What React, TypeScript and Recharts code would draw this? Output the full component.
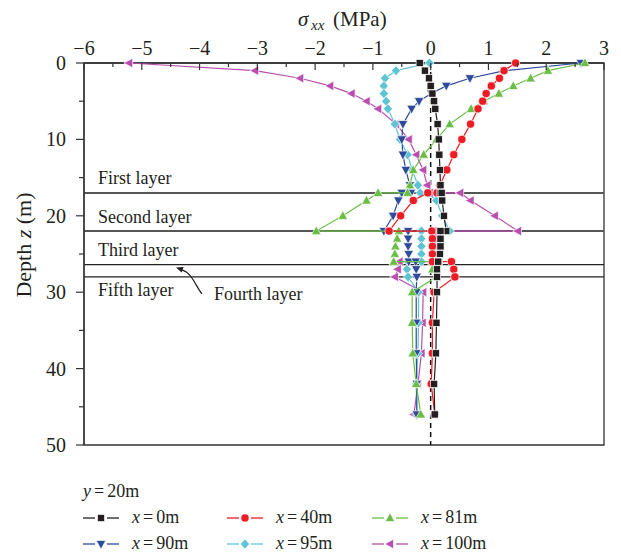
import React from 'react';
import { ScatterChart, Scatter, XAxis, YAxis, ReferenceLine, ReferenceArea } from 'recharts';

const FONT = '"Liberation Serif", "Times New Roman", serif';
const TXT = '#231f20';
const AX = '#333333';

// depth z (m) of every computed point; layer boundaries appear twice
const depths = [0, 1, 2, 3, 4, 5, 6, 8, 10, 12, 14, 16, 17, 17, 18, 20, 22, 22, 23, 24, 25, 26, 26, 27, 28, 30, 34, 38, 42, 46];

// sigma_xx (MPa) at y = 20 m
const sX0 = [-0.19, -0.1, -0.03, 0, 0.03, 0.06, 0.08, 0.12, 0.14, 0.15, 0.16, 0.17, 0.17, 0.19, 0.2, 0.23, 0.27, 0.17, 0.17, 0.17, 0.16, 0.14, 0.13, 0.11, 0.11, 0.11, 0.1, 0.09, 0.06, 0.07];
const sX40 = [1.47, 1.27, 1.19, 1.05, 0.96, 0.9, 0.82, 0.69, 0.54, 0.4, 0.28, 0.16, 0.11, -0.05, -0.3, -0.52, -0.72, 0.02, 0.03, 0.03, 0.03, 0.03, 0.36, 0.4, 0.42, 0.06, 0.03, 0.03, 0.01, 0.07];
const sX81 = [2.67, 2.03, 1.73, 1.43, 1.18, 0.92, 0.7, 0.33, 0.1, -0.12, -0.3, -0.36, -0.4, -0.91, -1.11, -1.52, -1.98, -0.55, -0.58, -0.61, -0.62, -0.64, 0.03, 0.03, 0.1, -0.32, -0.32, -0.31, -0.25, -0.17];
const sX90 = [2.6, 1.28, 0.68, 0.27, 0.01, -0.2, -0.33, -0.48, -0.5, -0.48, -0.43, -0.36, -0.34, -0.5, -0.56, -0.65, -0.81, -0.39, -0.39, -0.39, -0.38, -0.38, -0.26, -0.25, -0.24, -0.25, -0.25, -0.25, -0.24, -0.24];
const sX95 = [-0.02, -0.6, -0.79, -0.81, -0.81, -0.77, -0.74, -0.62, -0.53, -0.4, -0.32, -0.22, -0.18, -0.05, 0.1, 0.2, 0.33, -0.16, -0.16, -0.16, -0.16, -0.16, -0.39, -0.41, -0.39, -0.21, -0.21, -0.22, -0.25, -0.24];
const sX100 = [-5.22, -3.04, -2.26, -1.74, -1.37, -1.11, -0.91, -0.6, -0.38, -0.25, -0.13, -0.06, -0.02, 0.51, 0.69, 1.11, 1.51, 0.05, 0.07, 0.1, 0.1, 0.08, -0.54, -0.57, -0.62, -0.13, -0.14, -0.16, -0.22, -0.29];

const seriesNames = ['0m', '40m', '81m', '90m', '95m', '100m'];
const seriesValues = [sX0, sX40, sX81, sX90, sX95, sX100];
const seriesColors = ['#231f20', '#ed1c24', '#6abd45', '#2e4b9b', '#5ec4d4', '#b84fae'];
const seriesMarkers = ['square', 'circle', 'up', 'down', 'diamond', 'left'];

const layerDepths = [17, 22, 26.4, 28];
const layerNames = ['First layer', 'Second layer', 'Third layer', 'Fifth layer'];

const xTicks = [-6, -5.5, -5, -4.5, -4, -3.5, -3, -2.5, -2, -1.5, -1, -0.5, 0, 0.5, 1, 1.5, 2, 2.5, 3];
const yTicks = [0, 5, 10, 15, 20, 25, 30, 35, 40, 45, 50];

const drawMarker = (kind: string, color: string, cx: number, cy: number, key?: any) => {
  const common = { fill: color, stroke: '#ffffff', strokeWidth: 0.7, key };
  switch (kind) {
    case 'square':
      return <rect {...common} x={cx - 3.6} y={cy - 3.6} width={7.2} height={7.2} />;
    case 'circle':
      return <circle {...common} cx={cx} cy={cy} r={4.1} />;
    case 'up':
      return <polygon {...common} points={`${cx},${cy - 5.2} ${cx + 4.8},${cy + 3.6} ${cx - 4.8},${cy + 3.6}`} />;
    case 'down':
      return <polygon {...common} points={`${cx - 4.8},${cy - 3.6} ${cx + 4.8},${cy - 3.6} ${cx},${cy + 5.2}`} />;
    case 'left':
      return <polygon {...common} points={`${cx - 5.2},${cy} ${cx + 3.6},${cy - 4.8} ${cx + 3.6},${cy + 4.8}`} />;
    case 'diamond':
    default:
      return <polygon {...common} points={`${cx},${cy - 5} ${cx + 4.6},${cy} ${cx},${cy + 5} ${cx - 4.6},${cy}`} />;
  }
};

const makeShape = (kind: string, color: string) => (props: any) => {
  const { cx, cy } = props;
  if (cx == null || cy == null || isNaN(cx) || isNaN(cy)) return <g />;
  return <g>{drawMarker(kind, color, cx, cy)}</g>;
};

const fmt = (v: number) => (v < 0 ? '\u2212' + Math.abs(v) : String(v));

const XTick = (props: any) => {
  const { x, y, payload } = props;
  const v = payload.value;
  const major = Number.isInteger(v);
  return (
    <g>
      <line x1={x} x2={x} y1={y} y2={y + (major ? 7 : 4)} stroke={AX} strokeWidth={1.2} />
      {major && (
        <text x={x} y={y - 8} textAnchor="middle" fontSize={20} fontFamily={FONT} fill={TXT}>
          {fmt(v)}
        </text>
      )}
    </g>
  );
};

const YTick = (props: any) => {
  const { x, y, payload } = props;
  const v = payload.value;
  const major = v % 10 === 0;
  return (
    <g>
      <line x1={x - (major ? 8 : 5)} x2={x} y1={y} y2={y} stroke={AX} strokeWidth={1.2} />
      {major && (
        <text x={x - 18} y={y} dy="0.35em" textAnchor="end" fontSize={20} fontFamily={FONT} fill={TXT}>
          {v}
        </text>
      )}
    </g>
  );
};

const layerLabel = (text: string, dx: number, dy: number) => (props: any) => {
  const vb = props.viewBox || {};
  return (
    <text x={(vb.x ?? 0) + dx} y={(vb.y ?? 0) + dy} fontSize={18} fontFamily={FONT} fill={TXT}>
      {text}
    </text>
  );
};

const fifthAndFourth = (props: any) => {
  const vb = props.viewBox || {};
  const x0 = vb.x ?? 0;
  const y0 = vb.y ?? 0;
  return (
    <g>
      <text x={x0 + 14} y={y0 + 19.5} fontSize={18} fontFamily={FONT} fill={TXT}>
        {layerNames[3]}
      </text>
      <text x={x0 + 130} y={y0 + 23} fontSize={18} fontFamily={FONT} fill={TXT}>
        Fourth layer
      </text>
      <path
        d={`M ${x0 + 118} ${y0 + 17} C ${x0 + 112} ${y0 + 10}, ${x0 + 108} ${y0 - 4}, ${x0 + 98} ${y0 - 7}`}
        fill="none"
        stroke={TXT}
        strokeWidth={1.2}
      />
      <polygon
        points={`${x0 + 92},${y0 - 9.3} ${x0 + 97.7},${y0 - 4.3} ${x0 + 99.6},${y0 - 9.9}`}
        fill={TXT}
      />
    </g>
  );
};

const LegendItem = ({ i, x, y }: { i: number; x: number; y: number }) => {
  const c = seriesColors[i];
  return (
    <g>
      <line x1={x} x2={x + 12} y1={y} y2={y} stroke={c} strokeWidth={1.3} />
      <line x1={x + 24} x2={x + 36} y1={y} y2={y} stroke={c} strokeWidth={1.3} />
      {drawMarker(seriesMarkers[i], c, x + 18, y)}
      <text x={x + 49} y={y + 5} fontSize={18} fontFamily={FONT} fill={TXT}>
        <tspan fontStyle="italic">x</tspan>
        <tspan dx={3}>=</tspan>
        <tspan dx={3}>{seriesNames[i]}</tspan>
      </text>
    </g>
  );
};

export default function App() {
  const series = seriesValues.map((vals) => depths.map((z, k) => ({ z, v: vals[k] })));
  const order = [5, 4, 3, 2, 1, 0];
  return (
    <div style={{ position: 'relative', width: 613, height: 548 }}>
      <ScatterChart width={613} height={548} margin={{ top: 0, right: 17, bottom: 111, left: 0 }}>
        <XAxis
          type="number"
          dataKey="v"
          orientation="top"
          domain={[-6, 3]}
          ticks={xTicks}
          interval={0}
          height={55}
          tickSize={0}
          tickMargin={0}
          tick={XTick}
          tickLine={false}
          axisLine={{ stroke: AX, strokeWidth: 1.3 }}
        />
        <YAxis
          type="number"
          dataKey="z"
          domain={[0, 50]}
          reversed
          ticks={yTicks}
          interval={0}
          width={76}
          tickSize={0}
          tickMargin={0}
          tick={YTick}
          tickLine={false}
          axisLine={{ stroke: AX, strokeWidth: 1.3 }}
        />
        <ReferenceArea x1={-6} x2={3} y1={0} y2={50} fill="none" fillOpacity={0} stroke={AX} strokeWidth={1.3} ifOverflow="visible" />
        <ReferenceLine y={layerDepths[0]} stroke="#555" strokeWidth={2} label={layerLabel(layerNames[0], 14, -9)} />
        <ReferenceLine y={layerDepths[1]} stroke="#555" strokeWidth={2} label={layerLabel(layerNames[1], 14, -8.5)} />
        <ReferenceLine y={layerDepths[2]} stroke="#222" strokeWidth={1.3} label={layerLabel(layerNames[2], 14, -9)} />
        <ReferenceLine y={layerDepths[3]} stroke="#222" strokeWidth={1.3} label={fifthAndFourth} />
        <ReferenceLine x={0} stroke="#111" strokeWidth={1.5} strokeDasharray="5 4" />
        {order.map((i) => (
          <Scatter
            key={seriesNames[i]}
            name={seriesNames[i]}
            data={series[i]}
            fill={seriesColors[i]}
            line={{ stroke: seriesColors[i], strokeWidth: 1.2 }}
            lineType="joint"
            shape={makeShape(seriesMarkers[i], seriesColors[i])}
            isAnimationActive={false}
          />
        ))}
      </ScatterChart>
      <svg width={613} height={548} style={{ position: 'absolute', left: 0, top: 0, pointerEvents: 'none' }}>
        <text x={290} y={18} fontSize={21} fontStyle="italic" fontFamily={FONT} fill={TXT}>σ</text>
        <text x={303} y={22} fontSize={15} fontStyle="italic" fontFamily={FONT} fill={TXT}>xx</text>
        <text x={325} y={18} fontSize={21} fontFamily={FONT} fill={TXT}>(MPa)</text>
        <text
          x={23}
          y={237}
          textAnchor="middle"
          fontSize={22}
          fontFamily={FONT}
          fill={TXT}
          transform="rotate(-90, 23, 237)"
        >
          Depth <tspan fontStyle="italic">z</tspan> (m)
        </text>
        <text x={75} y={489} fontSize={18} fontFamily={FONT} fill={TXT}>
          <tspan fontStyle="italic">y</tspan>
          <tspan dx={3}>=</tspan>
          <tspan dx={3}>20m</tspan>
        </text>
        <LegendItem i={0} x={75} y={510} />
        <LegendItem i={1} x={219} y={510} />
        <LegendItem i={2} x={364} y={510} />
        <LegendItem i={3} x={75} y={536} />
        <LegendItem i={4} x={219} y={536} />
        <LegendItem i={5} x={364} y={536} />
      </svg>
    </div>
  );
}
